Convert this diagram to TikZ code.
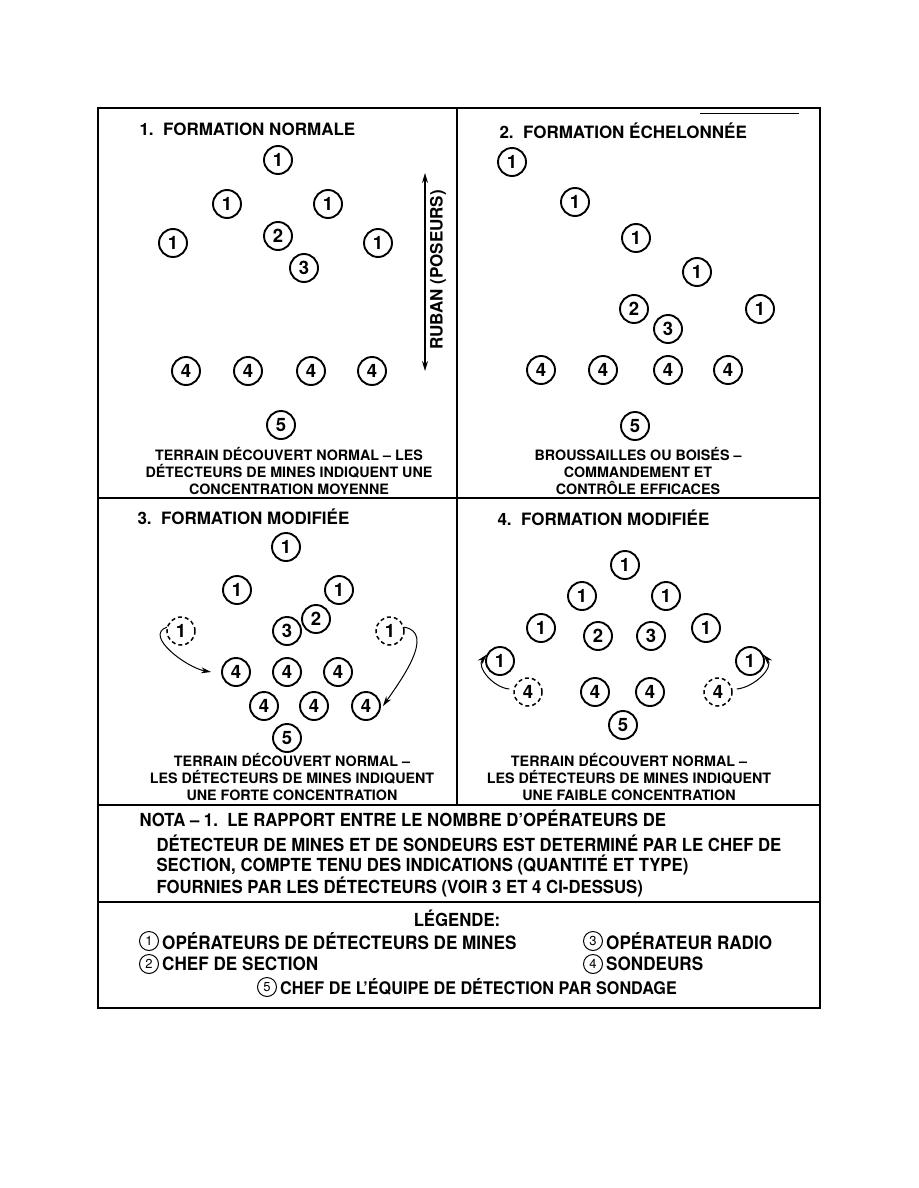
\documentclass[tikz,border=0pt]{standalone}
\usepackage{fontspec}
\setmainfont{TeX Gyre Heros}
\newfontfamily\narrowfont[FakeStretch=0.93]{TeX Gyre Heros}
\usetikzlibrary{arrows.meta,positioning}

\tikzset{
  op/.style={circle, draw, line width=1.9pt, inner sep=0pt, minimum size=28pt,
    font=\bfseries\fontsize{18.5}{18.5}\selectfont},
  opdash/.style={op, line width=1.5pt, dash pattern=on 4pt off 3pt},
  legop/.style={circle, draw, line width=1pt, inner sep=0pt, minimum size=19pt,
    font=\fontsize{13}{13}\selectfont},
  title/.style={anchor=west, font=\bfseries\fontsize{17}{17}\selectfont},
  caption/.style={align=center, font=\bfseries\fontsize{14.3}{17}\selectfont},
  notetext/.style={anchor=west, font=\narrowfont\bfseries\fontsize{18}{18}\selectfont},
  legtext/.style={anchor=west, inner xsep=2pt, font=\narrowfont\bfseries\fontsize{18.4}{18}\selectfont},
  move/.style={-{Stealth[length=10pt,width=6pt]}, line width=1pt},
  frame/.style={line width=2.8pt},
  divider/.style={line width=2.2pt}
}

\begin{document}
\begin{tikzpicture}[x=1pt, y=-1pt]
    % Page
    \fill[white] (0,0) rectangle (918,1188);
    \useasboundingbox (0,0) rectangle (918,1188);
    % Draw frame and dividers
    \draw[frame] (98,108) rectangle (820,1008);
    \draw[line width=0.8pt] (700,113) -- (799,113);
    \draw[divider] (457,108) -- (457,805);
    \draw[divider] (98,498) -- (820,498);
    \draw[divider] (98,805) -- (820,805);
    \draw[divider] (98,902) -- (820,902);

    % Panel 1
    \node[title] at (136,129) {1.\ \ FORMATION NORMALE};
    \node[op] (p1o1) at (278,160) {1};
    \node[op] (p1o2) at (227,204) {1};
    \node[op] (p1o3) at (328,204) {1};
    \node[op] (p1o4) at (173,243) {1};
    \node[op] (p1o5) at (378,243) {1};
    \node[op] (p1chef) at (278,236) {2};
    \node[op] (p1radio) at (304,268) {3};
    \foreach \x [count=\i] in {186,248,311,372}
        \node[op] (p1s\i) at (\x,371) {4};
    \node[op] (p1eq) at (281,425) {5};
    % Ruban arrow
    \coordinate (rubtop) at (425,173);
    \coordinate (rubbot) at (425,371);
    \draw[{Stealth[length=10pt,width=6pt]}-{Stealth[length=10pt,width=6pt]}, line width=1.3pt] (rubtop) -- (rubbot);
    \node[rotate=90, font=\bfseries\fontsize{17}{17}\selectfont] (ruban) at (438,270) {RUBAN (POSEURS)};
    \node[caption] (p1cap) at (289,471) {TERRAIN DÉCOUVERT NORMAL – LES\\DÉTECTEURS DE MINES INDIQUENT UNE\\CONCENTRATION MOYENNE};

    % Panel 2
    \node[title] at (496,131) {2.\ \ FORMATION ÉCHELONNÉE};
    \node[op] (p2o1) at (512,162) {1};
    \node[op] (p2o2) at (575,202) {1};
    \node[op] (p2o3) at (636,238) {1};
    \node[op] (p2o4) at (697,272) {1};
    \node[op] (p2o5) at (760,309) {1};
    \node[op] (p2chef) at (634,309) {2};
    \node[op] (p2radio) at (668,329) {3};
    \foreach \x [count=\i] in {541,603,668,728}
        \node[op] (p2s\i) at (\x,370) {4};
    \node[op] (p2eq) at (635,426) {5};
    \node[caption] (p2cap) at (638,471) {BROUSSAILLES OU BOISÉS –\\COMMANDEMENT ET\\CONTRÔLE EFFICACES};

    % Panel 3
    \node[title] at (134,517) {3.\ \ FORMATION MODIFIÉE};
    \node[op] (p3o1) at (286,547) {1};
    \node[op] (p3o2) at (237,590) {1};
    \node[op] (p3o3) at (339,590) {1};
    \node[op] (p3chef) at (316,619) {2};
    \node[op] (p3radio) at (287,631) {3};
    \node[opdash] (p3d1) at (181,631) {1};
    \node[opdash] (p3d2) at (390,631) {1};
    \foreach \x [count=\i] in {236,287,338}
        \node[op] (p3s\i) at (\x,672) {4};
    \foreach \x [count=\i from 4] in {264,314,366}
        \node[op] (p3s\i) at (\x,706) {4};
    \node[op] (p3eq) at (287,738) {5};
    \draw[move] (p3d1.165) to[out=200, in=170] ([xshift=-10pt]p3s1.west);
    \draw[move] (p3d2.15) to[out=-10, in=55] ([xshift=2pt]p3s6.east);
    \node[caption] (p3cap) at (292,777) {TERRAIN DÉCOUVERT NORMAL –\\LES DÉTECTEURS DE MINES INDIQUENT\\UNE FORTE CONCENTRATION};

    % Panel 4
    \node[title] at (494,518) {4.\ \ FORMATION MODIFIÉE};
    \node[op] (p4o1) at (625,565) {1};
    \node[op] (p4o2) at (582,596) {1};
    \node[op] (p4o3) at (666,596) {1};
    \node[op] (p4o4) at (541,628) {1};
    \node[op] (p4o5) at (706,628) {1};
    \node[op] (p4o6) at (500,661) {1};
    \node[op] (p4o7) at (750,661) {1};
    \node[op] (p4chef) at (598,636) {2};
    \node[op] (p4radio) at (651,636) {3};
    \node[opdash] (p4d1) at (528,692) {4};
    \node[op] (p4s1) at (595,692) {4};
    \node[op] (p4s2) at (650,692) {4};
    \node[opdash] (p4d2) at (718,692) {4};
    \node[op] (p4eq) at (623,725) {5};
    \draw[move] ([shift={(-4pt,3pt)}]p4d1.west) to[out=175, in=230] (p4o6.155);
    \draw[move] ([shift={(4pt,3pt)}]p4d2.east) to[out=5, in=-50] (p4o7.25);
    \node[caption] (p4cap) at (629,777) {TERRAIN DÉCOUVERT NORMAL –\\LES DÉTECTEURS DE MINES INDIQUENT\\UNE FAIBLE CONCENTRATION};

    % Note
    \node[notetext] (nota1) at (136,818) {NOTA – 1.\ \ LE RAPPORT ENTRE LE NOMBRE D’OPÉRATEURS DE};
    \node[notetext] (nota2) at (153,843) {DÉTECTEUR DE MINES ET DE SONDEURS EST DETERMINÉ PAR LE CHEF DE};
    \node[notetext] (nota3) at (153,865) {SECTION, COMPTE TENU DES INDICATIONS (QUANTITÉ ET TYPE)};
    \node[notetext] (nota4) at (153,887) {FOURNIES PAR LES DÉTECTEURS (VOIR 3 ET 4 CI-DESSUS)};

    % Legend
    \node[font=\narrowfont\bfseries\fontsize{18}{18}\selectfont] (leg) at (457,918) {LÉGENDE:};
    \node[legop] (l1) at (149,941) {1};
    \node[legtext, right=1pt of l1] {OPÉRATEURS DE DÉTECTEURS DE MINES};
    \node[legop] (l2) at (149,964) {2};
    \node[legtext, right=1pt of l2] {CHEF DE SECTION};
    \node[legop] (l3) at (593,941) {3};
    \node[legtext, right=1pt of l3] {OPÉRATEUR RADIO};
    \node[legop] (l4) at (593,964) {4};
    \node[legtext, right=1pt of l4] {SONDEURS};
    \node[legop] (l5) at (267,987) {5};
    \node[legtext, right=1pt of l5, font=\narrowfont\bfseries\fontsize{17.4}{18}\selectfont] {CHEF DE L’ÉQUIPE DE DÉTECTION PAR SONDAGE};
\end{tikzpicture}
\end{document}
